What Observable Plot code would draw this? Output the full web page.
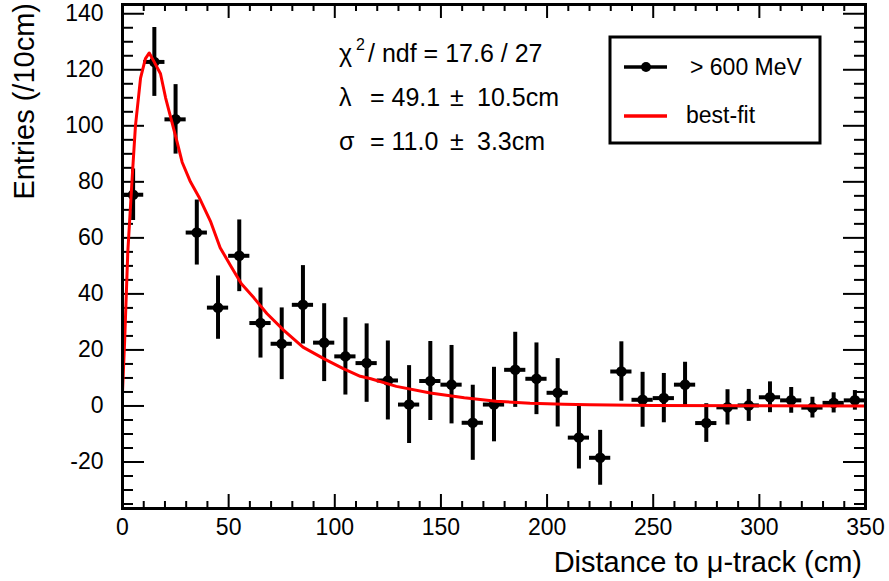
<!DOCTYPE html>
<html>
<head>
<meta charset="utf-8">
<script src="https://cdn.jsdelivr.net/npm/d3@7"></script>
<script src="https://cdn.jsdelivr.net/npm/@observablehq/plot@0.6"></script>
<style>
  html, body { margin: 0; padding: 0; background: white; }
</style>
</head>
<body>
<div id="chart"></div>
<script>
// Bin centres (cm)
const binX = [5,15,25,35,45,55,65,75,85,95,105,115,125,135,145,155,165,175,185,195,205,215,225,235,245,255,265,275,285,295,305,315,325,335,345];
// Entries per bin
const binY = [75.4,122.8,102.3,61.9,35.1,53.6,29.6,22.2,36.1,22.6,17.7,15.3,9.1,0.5,8.9,7.6,-6.0,0.5,12.9,9.7,4.7,-11.3,-18.5,12.3,2.2,2.8,7.6,-6.1,-0.5,0.2,3.1,2.0,-0.6,1.1,2.0];
// Symmetric errors
const binErr = [9.2,12.3,12.4,11.6,11.3,12.8,12.5,12.8,14.0,13.9,13.8,14.0,14.1,13.9,14.1,14.0,13.4,13.3,13.4,12.8,12.2,11.2,9.8,10.6,9.8,8.8,8.0,6.9,6.3,5.7,5.5,4.6,3.7,3.6,3.5];
const binHalfWidth = 5;

// Best-fit curve
const fitX = [0,1,2.5,4.6,6.1,8.5,10.8,12.6,14.8,17.9,20.3,23.4,25.8,28.1,32,36,41.4,46,51,56,62,68,76,85,95,104,112,117,129,145,161,176,192,208,220,250,300,350];
const fitY = [5,23,55,82,100,117,124,126,123,118.6,110,101,94,87,80,74.6,66,56.5,50,43.6,38.5,33,27,21,16.8,13.3,10.6,9.7,7,4.6,2.9,1.7,1.0,0.6,0.4,0.2,0.05,0.02];

// Axis ticks
const xMajor = [0,50,100,150,200,250,300,350];
const xMinor = d3.range(0, 351, 10).filter(v => v % 50 !== 0);
const yMajor = [-20,0,20,40,60,80,100,120,140];
const yMinor = d3.range(-35, 141, 5).filter(v => v % 20 !== 0);

// Legend / stats text
const legendLabels = ["> 600 MeV", "best-fit"];
const statsChi = ["17.6", "27"];
const statsLambda = ["49.1", "10.5cm"];
const statsSigma = ["11.0", "3.3cm"];

const points = binX.map((x, i) => ({x, y: binY[i], e: binErr[i]}));
const fit = fitX.map((x, i) => ({x, y: fitY[i]}));

const W = 889, H = 581;
const mL = 122, mR = 24, mT = 4, mB = 73;
const fw = W - mL - mR, fh = H - mT - mB;

const svg = Plot.plot({
  width: W, height: H,
  marginLeft: mL, marginRight: mR, marginTop: mT, marginBottom: mB,
  x: {domain: [0, 350]},
  y: {domain: [-36.6, 143.3]},
  style: {fontFamily: "'Liberation Sans', Arial, sans-serif", fontSize: "23px", background: "white", color: "black", overflow: "visible"},
  marks: [
    // tick marks on all four sides, pointing inward
    Plot.tickX(xMajor, {x: d => d, insetTop: fh - 14, stroke: "black", strokeWidth: 2}),
    Plot.tickX(xMinor, {x: d => d, insetTop: fh - 7, stroke: "black", strokeWidth: 2}),
    Plot.tickX(xMajor, {x: d => d, insetBottom: fh - 14, stroke: "black", strokeWidth: 2}),
    Plot.tickX(xMinor, {x: d => d, insetBottom: fh - 7, stroke: "black", strokeWidth: 2}),
    Plot.tickY(yMajor, {y: d => d, insetRight: fw - 22, stroke: "black", strokeWidth: 2}),
    Plot.tickY(yMinor, {y: d => d, insetRight: fw - 11, stroke: "black", strokeWidth: 2}),
    Plot.tickY(yMajor, {y: d => d, insetLeft: fw - 22, stroke: "black", strokeWidth: 2}),
    Plot.tickY(yMinor, {y: d => d, insetLeft: fw - 11, stroke: "black", strokeWidth: 2}),
    Plot.axisX(xMajor, {tickSize: 0, tickPadding: 10, label: null, tickFormat: d => String(d), fontSize: 23}),
    Plot.axisY(yMajor, {tickSize: 0, tickPadding: 19, label: null, tickFormat: d => String(d), fontSize: 23}),
    // data with error bars
    Plot.ruleX(points, {x: "x", y1: d => d.y - d.e, y2: d => d.y + d.e, stroke: "black", strokeWidth: 4}),
    Plot.ruleY(points, {y: "y", x1: d => d.x - binHalfWidth, x2: d => d.x + binHalfWidth, stroke: "black", strokeWidth: 4}),
    Plot.dot(points, {x: "x", y: "y", r: 5.3, fill: "black", stroke: null}),
    // fit
    Plot.line(fit, {x: "x", y: "y", stroke: "#ff0000", strokeWidth: 3}),
    Plot.frame({stroke: "black", strokeWidth: 3})
  ]
});

const s = d3.select(svg);
const font = "'Liberation Sans', Arial, sans-serif";

// axis titles
s.append("text").attr("x", 862).attr("y", 572).attr("text-anchor", "end")
  .attr("font-family", font).attr("font-size", 29).attr("fill", "black")
  .text("Distance to \u03BC-track (cm)");
s.append("text").attr("transform", "translate(34,3) rotate(-90)").attr("text-anchor", "end")
  .attr("font-family", font).attr("font-size", 29).attr("fill", "black")
  .text("Entries (/10cm)");

// stats
const st = s.append("g").attr("font-family", font).attr("font-size", 25).attr("fill", "black").attr("text-anchor", "start");
st.append("text").attr("x", 339).attr("y", 62).text("\u03C7");
st.append("text").attr("x", 356).attr("y", 50).attr("font-size", 16).text("2");
st.append("text").attr("x", 368).attr("y", 62).text(`/ ndf = ${statsChi[0]} / ${statsChi[1]}`);
st.append("text").attr("x", 339).attr("y", 106).text("\u03BB");
st.append("text").attr("x", 370).attr("y", 106).text(`= ${statsLambda[0]}`);
st.append("text").attr("x", 450).attr("y", 106).text("\u00B1");
st.append("text").attr("x", 477).attr("y", 106).text(statsLambda[1]);
st.append("text").attr("x", 339).attr("y", 150).text("\u03C3");
st.append("text").attr("x", 370).attr("y", 150).text(`= ${statsSigma[0]}`);
st.append("text").attr("x", 450).attr("y", 150).text("\u00B1");
st.append("text").attr("x", 477).attr("y", 150).text(statsSigma[1]);

// legend
const lg = s.append("g").attr("text-anchor", "start");
lg.append("rect").attr("x", 610).attr("y", 37).attr("width", 210).attr("height", 106)
  .attr("fill", "white").attr("stroke", "black").attr("stroke-width", 3);
lg.append("line").attr("x1", 624).attr("x2", 667).attr("y1", 67).attr("y2", 67)
  .attr("stroke", "black").attr("stroke-width", 3.5);
lg.append("circle").attr("cx", 646).attr("cy", 67).attr("r", 5).attr("fill", "black");
lg.append("text").attr("x", 690).attr("y", 75).attr("font-family", font).attr("font-size", 23).attr("fill", "black").text(legendLabels[0]);
lg.append("line").attr("x1", 624).attr("x2", 667).attr("y1", 116).attr("y2", 116)
  .attr("stroke", "#ff0000").attr("stroke-width", 3.5);
lg.append("text").attr("x", 686).attr("y", 123).attr("font-family", font).attr("font-size", 23).attr("fill", "black").text(legendLabels[1]);

document.getElementById("chart").appendChild(svg);
</script>
</body>
</html>
